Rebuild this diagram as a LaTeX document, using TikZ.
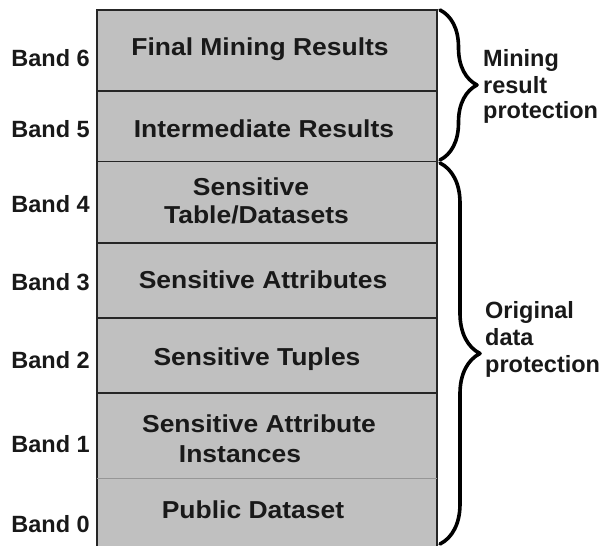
\documentclass[tikz,border=0pt]{standalone}
\usepackage{fontspec}
\setmainfont{Liberation Sans}
\newfontfamily\boxfont{Liberation Sans}[FakeStretch=1.08]
\usetikzlibrary{decorations.pathreplacing}
\definecolor{bandgray}{RGB}{192,192,192}
\definecolor{faintline}{RGB}{150,150,150}
\begin{document}
\begin{tikzpicture}[x=1pt,y=-1pt,
  bandtext/.style={font=\boxfont\bfseries\fontsize{24.5}{26}\selectfont, anchor=base, inner sep=0pt, text=black!90},
  bandlabel/.style={font=\bfseries\fontsize{23.5}{26}\selectfont, anchor=base east, inner sep=0pt, text=black!90},
  sidelabel/.style={font=\bfseries\fontsize{23.5}{26}\selectfont, anchor=base west, inner sep=0pt, text=black!90},
  divider/.style={line width=1.3pt, black!85},
  bracestyle/.style={decorate, line width=3.6pt, line cap=round, line join=round}]
\useasboundingbox (0,0) rectangle (605,546);
% stack
\fill[bandgray] (97,10) rectangle (437,560);
\draw[divider] (97,560) -- (97,10) -- (437,10) -- (437,560);
\foreach \yy in {91,161.5,243,318,393} \draw[divider] (97,\yy) -- (437,\yy);
\draw[line width=0.8pt, faintline] (97,478) -- (437,478);
% band labels
\node[bandlabel] (b6) at (90,66) {Band 6};
\node[bandlabel] (b5) at (90,137) {Band 5};
\node[bandlabel] (b4) at (90,212) {Band 4};
\node[bandlabel] (b3) at (90,290) {Band 3};
\node[bandlabel] (b2) at (90,368) {Band 2};
\node[bandlabel] (b1) at (90,452) {Band 1};
\node[bandlabel] (b0) at (90,532) {Band 0};
% band contents
\node[bandtext] (t6) at (260,55) {Final Mining Results};
\node[bandtext] (t5) at (264,137) {Intermediate Results};
\node[bandtext] (t4a) at (251,195) {Sensitive};
\node[bandtext] (t4b) at (256.5,223) {Table/Datasets};
\node[bandtext] (t3) at (263,288) {Sensitive Attributes};
\node[bandtext] (t2) at (257,365) {Sensitive Tuples};
\node[bandtext] (t1a) at (259,432) {Sensitive Attribute};
\node[bandtext] (t1b) at (240,462) {Instances};
\node[bandtext] (t0) at (253,518) {Public Dataset};
% braces
\coordinate (br1s) at (440,10);
\coordinate (br1e) at (440,160);
\coordinate (br2s) at (440,163);
\coordinate (br2e) at (440,544);
\draw[bracestyle, decoration={brace, amplitude=37pt}] (br1s) -- (br1e);
\draw[bracestyle, decoration={brace, amplitude=40pt}] (br2s) -- (br2e);
% side labels
\node[sidelabel] (s1a) at (483,66) {Mining};
\node[sidelabel] (s1b) at (483,93) {result};
\node[sidelabel] (s1c) at (483,118) {protection};
\node[sidelabel] (s2a) at (485,318) {Original};
\node[sidelabel] (s2b) at (485,345) {data};
\node[sidelabel] (s2c) at (485,372) {protection};
\end{tikzpicture}
\end{document}
